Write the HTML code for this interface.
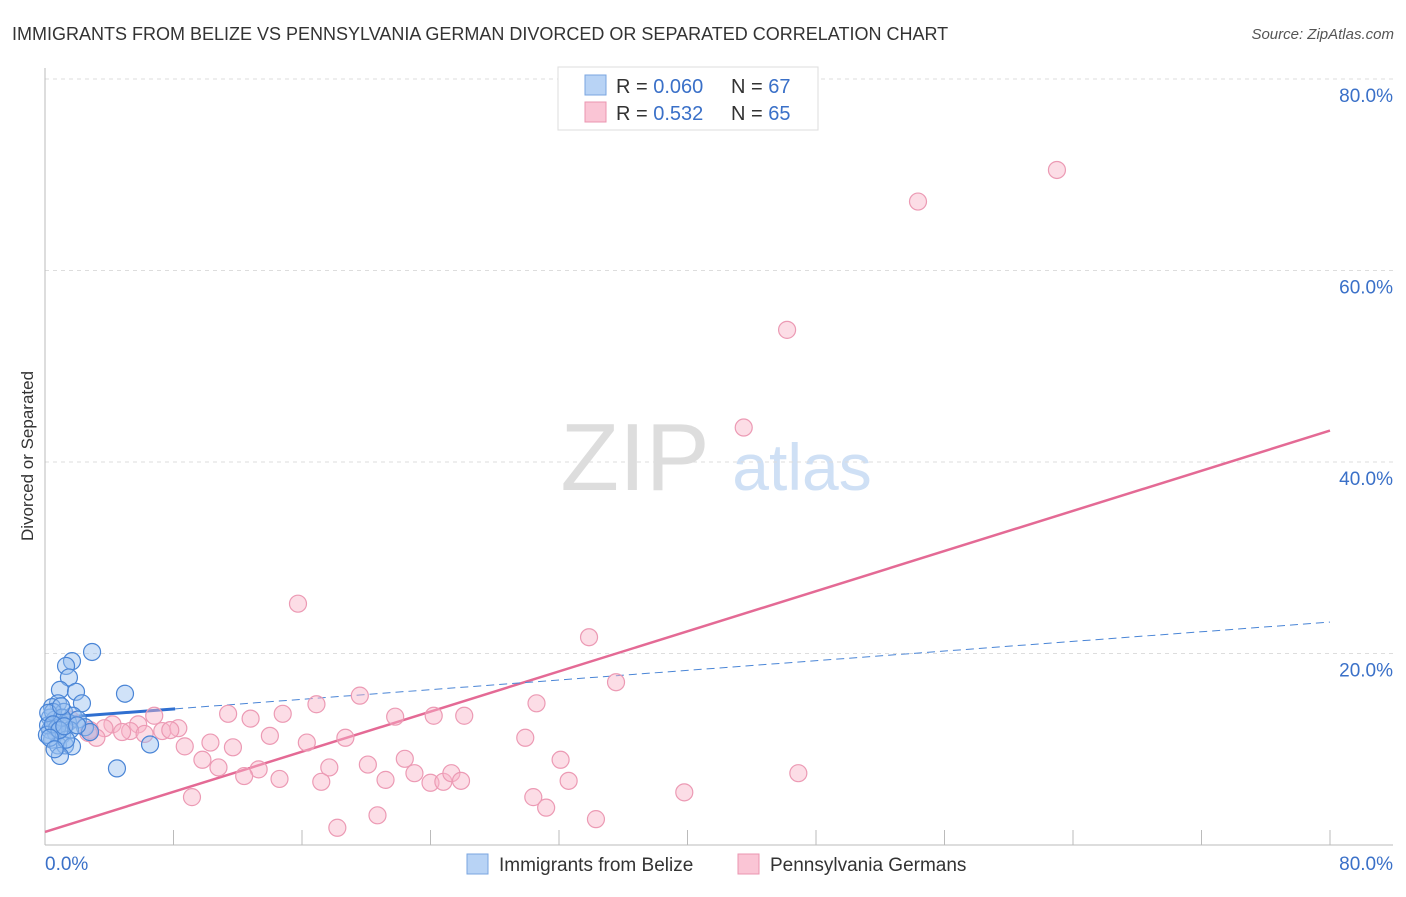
<!DOCTYPE html>
<html><head><meta charset="utf-8"><style>
body{margin:0;background:#fff;font-family:"Liberation Sans",sans-serif}
svg text{font-family:"Liberation Sans",sans-serif}
</style></head><body>
<svg id="chart" width="1406" height="892" xmlns="http://www.w3.org/2000/svg">
<text x="12" y="40" font-size="18" fill="#333">IMMIGRANTS FROM BELIZE VS PENNSYLVANIA GERMAN DIVORCED OR SEPARATED CORRELATION CHART</text>
<text x="1394" y="39" font-size="15" fill="#555" text-anchor="end" font-style="italic">Source: ZipAtlas.com</text>
<text transform="translate(33,456) rotate(-90)" font-size="17" fill="#333" text-anchor="middle">Divorced or Separated</text>
<g>
<text x="635" y="490" font-size="96" fill="#ddd" font-family="Liberation Serif" text-anchor="middle">ZIP</text>
<text x="802" y="490" font-size="66" fill="#cfe0f5" text-anchor="middle">atlas</text>
</g>
<g id="grid"></g><g id="axes"></g><g id="trends"></g><g id="pts"></g>
<g>
<rect x="558" y="67" width="260" height="63" fill="#fff" stroke="#ddd"/>
<rect x="585" y="75" width="21" height="20" fill="#b8d3f5" stroke="#7aa6e0"/>
<rect x="585" y="102" width="21" height="20" fill="#fac5d5" stroke="#eb95b0"/>
<text x="616" y="93" font-size="20" fill="#333">R = <tspan fill="#3a70c8">0.060</tspan></text>
<text x="731" y="93" font-size="20" fill="#333">N = <tspan fill="#3a70c8">67</tspan></text>
<text x="616" y="120" font-size="20" fill="#333">R =  <tspan fill="#3a70c8">0.532</tspan></text>
<text x="731" y="120" font-size="20" fill="#333">N = <tspan fill="#3a70c8">65</tspan></text>
</g>
<g>
<rect x="467" y="854" width="21" height="20" fill="#b8d3f5" stroke="#7aa6e0"/>
<text x="499" y="871" font-size="19" fill="#333">Immigrants from Belize</text>
<rect x="738" y="854" width="21" height="20" fill="#fac5d5" stroke="#eb95b0"/>
<text x="770" y="871" font-size="19" fill="#333">Pennsylvania Germans</text>
</g>
</svg>
<script>
const blueX=[2.93,1.68,1.31,1.49,0.93,1.93,4.98,2.3,0.81,0.44,1.18,1.74,0.31,0.62,0.93,1.43,2.05,2.49,0.31,0.68,1.06,1.56,2.8,0.44,0.81,1.25,1.68,6.54,0.93,4.48,0.19,0.5,0.75,1.31,0.12,1.06,0.2,0.5,0.9,1.2,0.3,0.6,2.0,1.0];
const blueY=[20.16,19.2,18.7,17.5,16.2,16.0,15.8,14.8,14.8,14.4,13.9,13.5,13.3,13.1,12.8,12.8,13.1,12.3,12.0,11.7,11.5,12.0,11.8,11.0,10.4,10.4,10.3,10.5,9.3,8.0,12.5,13.9,12.2,11.0,11.5,13.3,13.8,12.6,12.0,12.4,11.2,10.0,12.5,14.5];
const pinkX=[63.0,54.35,46.2,43.5,15.75,33.87,35.55,19.6,16.9,30.6,6.8,11.4,14.8,12.8,21.8,24.2,26.1,5.8,4.2,5.3,3.7,4.8,7.3,8.3,7.8,6.2,3.2,14.0,18.7,29.9,8.7,10.3,11.7,16.3,22.4,32.1,9.8,10.8,13.3,17.7,20.1,12.4,14.6,17.2,21.2,23.0,24.0,24.8,25.3,25.9,32.6,46.9,9.15,30.4,31.2,39.8,20.7,34.3,18.2,2.8,2.7,1.6];
const pinkY=[70.5,67.2,53.8,43.6,25.2,21.7,17.0,15.6,14.7,14.8,13.5,13.7,13.7,13.2,13.4,13.5,13.5,12.6,12.6,11.9,12.2,11.8,11.9,12.2,12.0,11.6,11.2,11.4,11.2,11.2,10.3,10.7,10.2,10.7,9.0,8.9,8.9,8.1,7.9,8.1,8.4,7.2,6.9,6.6,6.8,7.5,6.5,6.6,7.5,6.7,6.7,7.5,5.0,5.0,3.9,5.5,3.1,2.7,1.8,12.0,11.7,13.1];
const yTicks=[20,40,60,80];
const yTickLabels=["20.0%","40.0%","60.0%","80.0%"];
const blueTrend=[13.2,0.126]; // intercept, slope
const pinkTrend=[1.36,0.524];
const X=v=>45+v/80*1285, Y=v=>845-v/20*191.5;
const NS="http://www.w3.org/2000/svg";
function mk(p,t,a){const e=document.createElementNS(NS,t);for(const k in a)e.setAttribute(k,a[k]);document.getElementById(p).appendChild(e);return e;}
yTicks.forEach((t,i)=>{
 const l=mk('grid','line',{x1:45,x2:1393,y1:Y(t),y2:Y(t),stroke:'#ddd','stroke-dasharray':'4,4'});
 
 
 const tx=mk('grid','text',{x:1393,y:Y(t)+23,'font-size':19,fill:'#3a70c8','text-anchor':'end'});
 tx.textContent=yTickLabels[i];
 
 
});
let a=mk('axes','line',{x1:45,x2:45,y1:68,y2:845,stroke:'#bbb'});


a=mk('axes','line',{x1:45,x2:1393,y1:845,y2:845,stroke:'#bbb'});


for(let v=8;v<=80;v+=8){const t=mk('axes','line',{x1:X(v),x2:X(v),y1:830,y2:845,stroke:'#bbb'});
 
 }
let t1=mk('axes','text',{x:45,y:870,'font-size':19,fill:'#3a70c8'});t1.textContent='0.0%';


t1=mk('axes','text',{x:1393,y:870,'font-size':19,fill:'#3a70c8','text-anchor':'end'});t1.textContent='80.0%';


function pts(xs,ys,fill,stroke,name){xs.forEach((x,i)=>{const c=mk('pts','circle',{cx:X(x),cy:Y(ys[i]),r:8.5,fill:fill,stroke:stroke,'stroke-width':1.2});
 
 });}
pts(pinkX,pinkY,'rgba(248,180,200,0.45)','#ec9ab4','pink-point');
pts(blueX,blueY,'rgba(150,190,240,0.45)','#4a85d6','blue-point');
let l=mk('trends','line',{x1:X(0),y1:Y(pinkTrend[0]),x2:X(80),y2:Y(pinkTrend[0]+80*pinkTrend[1]),stroke:'#e46a95','stroke-width':2.5});


l=mk('trends','line',{x1:X(8.1),y1:Y(blueTrend[0]+8.1*blueTrend[1]),x2:X(80),y2:Y(blueTrend[0]+80*blueTrend[1]),stroke:'#4a85d6','stroke-width':1,'stroke-dasharray':'8,5'});


l=mk('trends','line',{x1:X(0),y1:Y(blueTrend[0]),x2:X(8.1),y2:Y(blueTrend[0]+8.1*blueTrend[1]),stroke:'#2f6fd0','stroke-width':3});


</script>
</body></html>
